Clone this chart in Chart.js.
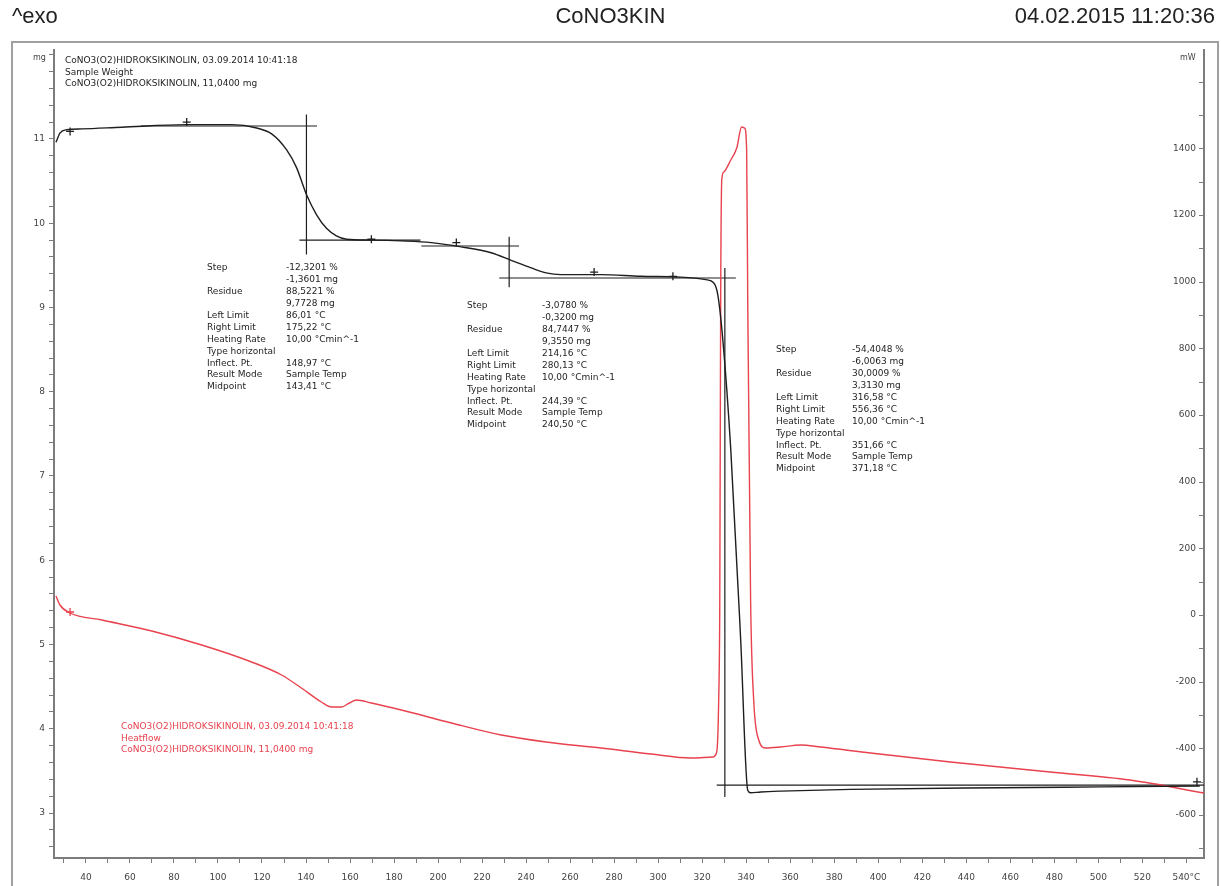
<!DOCTYPE html>
<html>
<head>
<meta charset="utf-8">
<script src="https://cdn.jsdelivr.net/npm/chart.js@4/dist/chart.umd.min.js"></script>
<style>
  body { margin: 0; background: #fff; }
  #wrap { position: relative; width: 1221px; height: 886px; overflow: hidden; }
  .hd { position: absolute; top: 3px; font-family: 'Liberation Sans Narrow', 'Liberation Sans', Arial, sans-serif; font-size: 22px; color: #222; line-height: 26px; }
  #exo { left: 12px; }
  #name { left: 0; width: 1221px; text-align: center; }
  #date { right: 6px; }
  canvas { position: absolute; left: 0; top: 0; }
</style>
</head>
<body>
<div id="wrap">
  <canvas id="chart" width="1221" height="886"></canvas>
  <div class="hd" id="exo">^exo</div>
  <div class="hd" id="name">CoNO3KIN</div>
  <div class="hd" id="date">04.02.2015 11:20:36</div>
</div>
<script>
// sample weight (mg) vs temperature (°C)
const massT  = [26.4, 28.2, 31.4, 38.2, 56.3, 85.8, 106.2, 117.6, 124.4, 131.2, 135.7, 140.2, 144.8, 149.3, 153.8, 158.4,
                169.7, 183.3, 196.9, 210.5, 224.1, 233.2, 242.3, 249.1, 255.9, 274.0, 292.2, 310.3, 321.6, 325.3, 327.1,
                329.4, 333.0, 337.5, 340.7, 342.0, 346.6, 355.7, 387.4, 455.4, 500.8, 546.1];
const massMg = [10.96, 11.07, 11.11, 11.12, 11.14, 11.17, 11.17, 11.13, 11.06, 10.87, 10.66, 10.34, 10.10, 9.94, 9.85, 9.81,
                9.80, 9.79, 9.77, 9.72, 9.65, 9.56, 9.47, 9.41, 9.39, 9.39, 9.37, 9.36, 9.33, 9.29, 9.15,
                8.61, 7.31, 5.05, 3.27, 3.24, 3.25, 3.26, 3.28, 3.30, 3.31, 3.32];

// heat flow (mW) vs temperature (°C)
const heatT  = [26.4, 28.2, 32.8, 47.3, 69.9, 92.6, 115.3, 128.9, 137.9, 147.0, 151.6, 156.1, 159.7, 162.9, 169.7, 183.3,
                206.0, 228.7, 249.1, 274.0, 296.7, 314.8, 324.8, 326.6, 327.5, 328.0, 328.4, 328.9, 329.8, 333.0, 335.7,
                337.9, 339.3, 340.2, 340.7, 342.0, 343.4, 345.7, 348.9, 355.7, 364.7, 373.8, 396.5, 432.8, 478.1, 514.4, 548.0];
const heatMW = [57, 30, 6, -15, -48, -90, -141, -180, -219, -261, -276, -276, -264, -255, -264, -285,
                -324, -360, -381, -399, -417, -429, -426, -411, -255, 45, 945, 1305, 1329, 1365, 1401,
                1464, 1461, 1395, 945, 45, -255, -375, -399, -396, -390, -396, -414, -441, -471, -495, -534];

// step evaluation construction lines (start/end temperature, start/end mg)
const tangentT  = [[65, 145], [140.2, 140.2], [137, 192], [192.4, 236.8], [232.3, 232.3], [227.8, 335.3], [330.3, 330.3], [326.6, 548]];
const tangentMg = [[11.154, 11.154], [11.29, 9.63], [9.80, 9.80], [9.73, 9.73], [9.84, 9.24], [9.35, 9.35], [9.47, 3.19], [3.33, 3.33]];

// evaluation limit markers
const markT  = [32.8, 85.8, 169.7, 208.3, 270.9, 306.7, 544.8];
const markMg = [11.09, 11.20, 9.81, 9.77, 9.42, 9.37, 3.37];
const heatMarkT  = [32.8];
const heatMarkMW = [9];

// axis ticks
const xTicks = [];
for (let v = 30; v <= 540; v += 10) xTicks.push(v);
const mgTicks = [];
for (let i = 13; i <= 60; i++) mgTicks.push(Math.round(i * 2) / 10);
const mwTicks = [];
for (let v = -700; v <= 1600; v += 100) mwTicks.push(v);
const mwLabels = [-600, -400, -200, 0, 200, 400, 600, 800, 1000, 1200, 1400];

// annotation texts
const headInfo = ['CoNO3(O2)HIDROKSIKINOLIN, 03.09.2014 10:41:18', 'Sample Weight', 'CoNO3(O2)HIDROKSIKINOLIN, 11,0400 mg'];
const heatInfo = ['CoNO3(O2)HIDROKSIKINOLIN, 03.09.2014 10:41:18', 'Heatflow', 'CoNO3(O2)HIDROKSIKINOLIN, 11,0400 mg'];
const stepKeys = ['Step', '', 'Residue', '', 'Left Limit', 'Right Limit', 'Heating Rate', 'Type horizontal', 'Inflect. Pt.', 'Result Mode', 'Midpoint'];
const step1 = ['-12,3201 %', '-1,3601 mg', '88,5221 %', '9,7728 mg', '86,01 °C', '175,22 °C', '10,00 °Cmin^-1', '', '148,97 °C', 'Sample Temp', '143,41 °C'];
const step2 = ['-3,0780 %', '-0,3200 mg', '84,7447 %', '9,3550 mg', '214,16 °C', '280,13 °C', '10,00 °Cmin^-1', '', '244,39 °C', 'Sample Temp', '240,50 °C'];
const step3 = ['-54,4048 %', '-6,0063 mg', '30,0009 %', '3,3130 mg', '316,58 °C', '556,36 °C', '10,00 °Cmin^-1', '', '351,66 °C', 'Sample Temp', '371,18 °C'];

const BLACK = '#1e1e1e';
const RED = '#e8424e';
const AXIS = '#7c7c7c';
const FONT = '"DejaVu Sans", sans-serif';

const pts = (xs, ys) => xs.map((x, i) => ({ x: x, y: ys[i] }));

const datasets = [
  { label: 'Sample Weight', data: pts(massT, massMg), yAxisID: 'y', borderColor: BLACK, borderWidth: 1.4,
    cubicInterpolationMode: 'monotone', pointRadius: 0, showLine: true },
  { label: 'Heatflow', data: pts(heatT, heatMW), yAxisID: 'y2', borderColor: RED, borderWidth: 1.4,
    cubicInterpolationMode: 'monotone', pointRadius: 0, showLine: true }
];
tangentT.forEach((t, i) => {
  datasets.push({ label: 'tangent' + i, data: pts(t, tangentMg[i]), yAxisID: 'y', borderColor: BLACK,
    borderWidth: 1.2, pointRadius: 0, showLine: true });
});
datasets.push({ label: 'marks', data: pts(markT, markMg), yAxisID: 'y', pointStyle: 'cross', pointRadius: 4,
  borderColor: BLACK, borderWidth: 1.3, showLine: false });
datasets.push({ label: 'heatMarks', data: pts(heatMarkT, heatMarkMW), yAxisID: 'y2', pointStyle: 'cross', pointRadius: 4,
  borderColor: RED, borderWidth: 1.3, showLine: false });

const setTicks = (list) => (scale) => { scale.ticks = list.map(v => ({ value: v })); };

const decor = {
  id: 'decor',
  beforeDraw(chart) {
    const ctx = chart.ctx;
    ctx.save();
    ctx.fillStyle = '#fff';
    ctx.fillRect(0, 0, chart.width, chart.height);
    ctx.strokeStyle = '#a0a0a0';
    ctx.lineWidth = 2;
    ctx.strokeRect(12, 42, 1206, 860);
    ctx.restore();
  },
  afterDraw(chart) {
    const ctx = chart.ctx;
    const y2 = chart.scales.y2;
    const ax = y2.left;
    ctx.save();
    // right axis tick marks and labels (inside the plot)
    ctx.strokeStyle = AXIS;
    ctx.lineWidth = 1;
    mwTicks.forEach(v => {
      const py = Math.round(y2.getPixelForValue(v)) + 0.5;
      ctx.beginPath();
      ctx.moveTo(ax - 5, py);
      ctx.lineTo(ax, py);
      ctx.stroke();
    });
    ctx.fillStyle = '#444';
    ctx.font = '9px ' + FONT;
    ctx.textAlign = 'right';
    ctx.textBaseline = 'middle';
    mwLabels.forEach(v => ctx.fillText(String(v), ax - 8, y2.getPixelForValue(v)));
    // unit labels
    ctx.font = '8px ' + FONT;
    ctx.textAlign = 'left';
    ctx.fillText('mg', 33, 58);
    ctx.fillText('mW', 1180, 58);
    // info blocks
    ctx.font = '9px ' + FONT;
    ctx.textBaseline = 'middle';
    ctx.fillStyle = BLACK;
    headInfo.forEach((s, i) => ctx.fillText(s, 65, 61 + i * 11.5));
    const block = (vals, lx, vx, top) => {
      stepKeys.forEach((k, i) => {
        const y = top + i * 11.9;
        if (k) ctx.fillText(k, lx, y);
        if (vals[i]) ctx.fillText(vals[i], vx, y);
      });
    };
    block(step1, 207, 286, 268);
    block(step2, 467, 542, 306);
    block(step3, 776, 852, 350);
    ctx.fillStyle = RED;
    heatInfo.forEach((s, i) => ctx.fillText(s, 121, 727 + i * 11.5));
    ctx.restore();
  }
};

new Chart(document.getElementById('chart').getContext('2d'), {
  type: 'scatter',
  data: { datasets: datasets },
  options: {
    responsive: false,
    animation: false,
    events: [],
    layout: { padding: { top: 50, left: 0, right: 0, bottom: 0 } },
    plugins: { legend: { display: false }, tooltip: { enabled: false } },
    scales: {
      x: {
        type: 'linear', min: 25.5, max: 548,
        afterBuildTicks: setTicks(xTicks),
        afterFit: (s) => { s.height = 28; },
        grid: { display: true, drawOnChartArea: false, tickLength: 5, color: AXIS },
        border: { display: true, color: AXIS, width: 2 },
        ticks: {
          autoSkip: false, maxRotation: 0, padding: 9, color: '#444', font: { family: FONT, size: 9 },
          callback: (v) => (v % 20 === 0 && v >= 40) ? (v === 540 ? '540°C' : String(v)) : ''
        }
      },
      y: {
        type: 'linear', position: 'left', min: 2.466, max: 12.056,
        afterBuildTicks: setTicks(mgTicks),
        afterFit: (s) => { s.width = 54; },
        grid: { display: true, drawOnChartArea: false, tickLength: 5, color: AXIS },
        border: { display: true, color: AXIS, width: 2 },
        ticks: {
          autoSkip: false, padding: 4, color: '#444', font: { family: FONT, size: 9 },
          callback: (v) => (Math.abs(v - Math.round(v)) < 1e-6 && v >= 3 && v <= 11) ? String(Math.round(v)) : ''
        }
      },
      y2: {
        type: 'linear', position: 'right', min: -729, max: 1695,
        afterFit: (s) => { s.width = 17; },
        grid: { display: true, drawOnChartArea: false, drawTicks: false },
        border: { display: true, color: AXIS, width: 2 },
        ticks: { display: false }
      }
    }
  },
  plugins: [decor]
});
</script>
</body>
</html>
